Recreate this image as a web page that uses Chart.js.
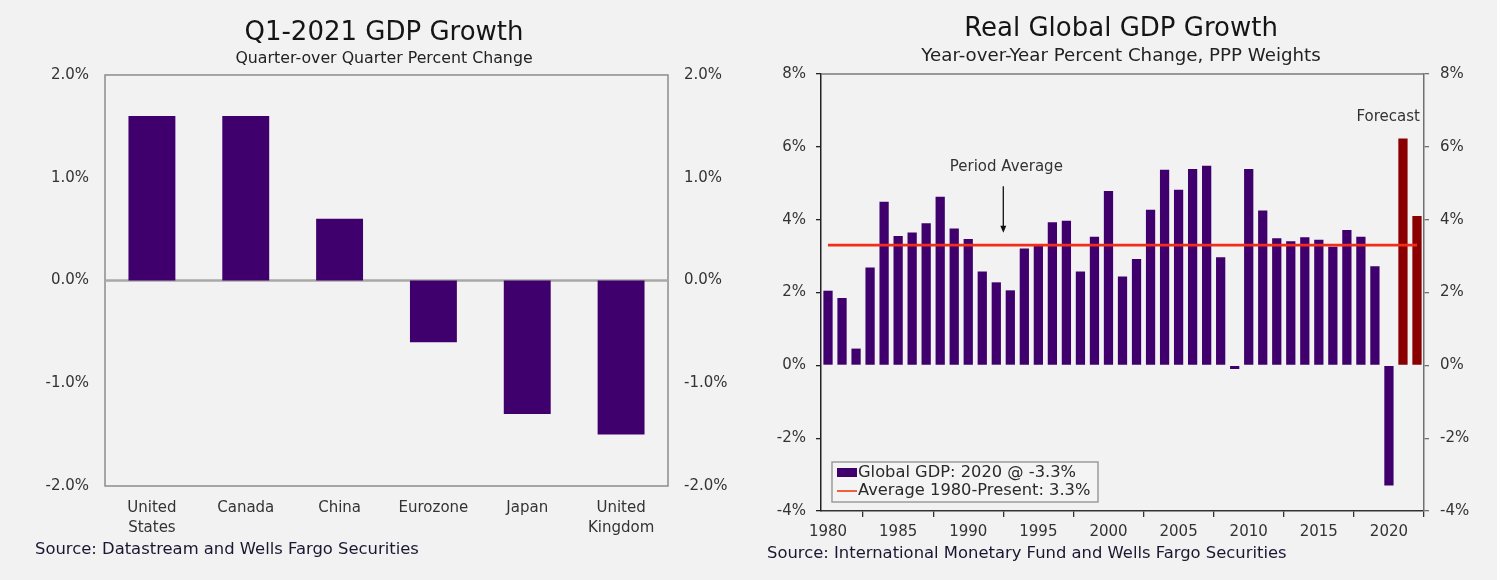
<!DOCTYPE html>
<html>
<head>
<meta charset="utf-8">
<title>GDP Growth</title>
<script src="https://cdn.jsdelivr.net/npm/chart.js@4.4.1/dist/chart.umd.min.js"></script>
<style>
  body { margin: 0; background: #fff; }
  #page { position: relative; width: 1497px; height: 580px; background: #f2f2f2; overflow: hidden; }
  .panel { position: absolute; top: 0; height: 580px; }
  #qoq-panel { left: 0; width: 768px; }
  #gdp-panel { left: 750px; width: 742px; }
  .source {
    position: absolute; font-family: "DejaVu Sans", Verdana, sans-serif; font-size: 16.4px;
    color: #1c1630; white-space: nowrap; line-height: 18px;
  }
</style>
</head>
<body>
<div id="page">
  <div class="panel" id="qoq-panel"><canvas id="qoq-chart"></canvas></div>
  <div class="panel" id="gdp-panel"><canvas id="gdp-chart"></canvas></div>
  <div class="source" style="left:35px; top:540px;">Source: Datastream and Wells Fargo Securities</div>
  <div class="source" style="left:767px; top:544px;">Source: International Monetary Fund and Wells Fargo Securities</div>
</div>

<script>
// Quarterly growth, Q1-2021
const economies = [['United', 'States'], 'Canada', 'China', 'Eurozone', 'Japan', ['United', 'Kingdom']];
const qoqGrowth = [1.6, 1.6, 0.6, -0.6, -1.3, -1.5];

// Annual world GDP growth (IMF, PPP weights)
const years = [1980, 1981, 1982, 1983, 1984, 1985, 1986, 1987, 1988, 1989,
               1990, 1991, 1992, 1993, 1994, 1995, 1996, 1997, 1998, 1999,
               2000, 2001, 2002, 2003, 2004, 2005, 2006, 2007, 2008, 2009,
               2010, 2011, 2012, 2013, 2014, 2015, 2016, 2017, 2018, 2019,
               2020, 2021, 2022];
const globalGrowth = [2.05, 1.85, 0.46, 2.69, 4.49, 3.55, 3.65, 3.90, 4.63, 3.76,
                      3.47, 2.58, 2.28, 2.06, 3.21, 3.33, 3.93, 3.97, 2.58, 3.53,
                      4.79, 2.44, 2.92, 4.27, 5.37, 4.82, 5.39, 5.48, 2.97, -0.10,
                      5.39, 4.25, 3.49, 3.41, 3.52, 3.45, 3.26, 3.72, 3.53, 2.72,
                      -3.30, 6.23, 4.10];
const forecastYears = [2021, 2022];
const periodAverage = 3.3;

const PURPLE = '#3f006e';
const FORECAST_RED = '#8a0000';
const AVG_RED = '#f02e1a';
const TEXT = '#333';

Chart.defaults.font.family = '"DejaVu Sans", Verdana, sans-serif';
Chart.defaults.color = TEXT;
Chart.defaults.animation = false;

// box round the plot area plus the zero line
const qoqFrame = {
  id: 'qoqFrame',
  beforeDatasetsDraw(chart) {
    const { ctx, chartArea: a, scales: { y } } = chart;
    ctx.save();
    ctx.strokeStyle = '#8c8c8c';
    ctx.lineWidth = 1.5;
    ctx.strokeRect(a.left, a.top, a.width, a.height);
    const zero = y.getPixelForValue(0);
    ctx.strokeStyle = '#a8a8a8';
    ctx.lineWidth = 2.5;
    ctx.beginPath();
    ctx.moveTo(a.left, zero);
    ctx.lineTo(a.right, zero);
    ctx.stroke();
    ctx.restore();
  }
};

const pctAxis = (position, width) => ({
  position: position,
  min: -2,
  max: 2,
  ticks: { stepSize: 1, padding: 16, font: { size: 15 }, callback: v => v.toFixed(1) + '%' },
  grid: { display: false, drawTicks: false },
  border: { display: false },
  afterFit: s => { s.width = width; }
});

new Chart(document.getElementById('qoq-chart'), {
  type: 'bar',
  data: {
    labels: economies,
    datasets: [{
      label: 'Q1-2021',
      data: qoqGrowth,
      backgroundColor: PURPLE,
      categoryPercentage: 1,
      barPercentage: 0.5
    }]
  },
  options: {
    responsive: true,
    maintainAspectRatio: false,
    layout: { padding: 0 },
    plugins: {
      legend: { display: false },
      tooltip: { enabled: false },
      title: {
        display: true,
        text: 'Q1-2021 GDP Growth',
        color: '#151515',
        font: { size: 26, weight: 'normal' },
        padding: { top: 18, bottom: 0 }
      },
      subtitle: {
        display: true,
        text: 'Quarter-over Quarter Percent Change',
        color: '#222',
        font: { size: 15.8 },
        padding: { top: 0, bottom: 6.8 }
      }
    },
    scales: {
      x: {
        grid: { display: false, drawTicks: false },
        border: { display: false },
        ticks: { font: { size: 15, lineHeight: 1.33 }, padding: 12, maxRotation: 0, autoSkip: false },
        afterFit: s => { s.height = 94; }
      },
      y: pctAxis('left', 105),
      y2: pctAxis('right', 100)
    }
  },
  plugins: [qoqFrame]
});

// top edge, notes and the boxed legend
const gdpNotes = {
  id: 'gdpNotes',
  afterDatasetsDraw(chart) {
    const { ctx, chartArea: a, scales: { x, y } } = chart;
    ctx.save();
    ctx.strokeStyle = '#7a7a7a';
    ctx.lineWidth = 1.5;
    ctx.beginPath();
    ctx.moveTo(a.left, a.top);
    ctx.lineTo(a.right, a.top);
    ctx.stroke();

    ctx.font = '15px "DejaVu Sans", Verdana, sans-serif';
    ctx.fillStyle = TEXT;
    ctx.textBaseline = 'middle';

    // "Period Average" pointing down at the average line
    const ax = x.getPixelForValue(years.indexOf(1993) - 0.5);
    ctx.textAlign = 'center';
    ctx.fillText('Period Average', ax + 3, y.getPixelForValue(5.45));
    const y0 = y.getPixelForValue(4.92), y1 = y.getPixelForValue(3.64);
    ctx.strokeStyle = '#111';
    ctx.lineWidth = 1.3;
    ctx.beginPath();
    ctx.moveTo(ax, y0);
    ctx.lineTo(ax, y1 - 6);
    ctx.stroke();
    ctx.fillStyle = '#111';
    ctx.beginPath();
    ctx.moveTo(ax - 3, y1 - 7);
    ctx.lineTo(ax + 3, y1 - 7);
    ctx.lineTo(ax, y1);
    ctx.closePath();
    ctx.fill();

    ctx.fillStyle = TEXT;
    ctx.textAlign = 'right';
    ctx.fillText('Forecast', x.getPixelForValue(years.length - 1) + 3, y.getPixelForValue(6.82));

    // legend
    const ds = chart.data.datasets;
    const lx = a.left + 11, ly = a.bottom - 49, lw = 266, lh = 40;
    ctx.fillStyle = '#f4f4f4';
    ctx.fillRect(lx, ly, lw, lh);
    ctx.strokeStyle = '#9c9c9c';
    ctx.lineWidth = 1.5;
    ctx.strokeRect(lx, ly, lw, lh);

    ctx.fillStyle = PURPLE;
    ctx.fillRect(lx + 5, ly + 6, 20, 9);
    ctx.strokeStyle = '#f06040';
    ctx.lineWidth = 2;
    ctx.beginPath();
    ctx.moveTo(lx + 5, ly + 29);
    ctx.lineTo(lx + 25, ly + 29);
    ctx.stroke();

    ctx.font = '16.3px "DejaVu Sans", Verdana, sans-serif';
    ctx.fillStyle = '#2a2a2a';
    ctx.textAlign = 'left';
    ctx.fillText(ds[1].label, lx + 26, ly + 11);
    ctx.fillText(ds[0].label, lx + 26, ly + 29);
    ctx.restore();
  }
};

const growthAxis = (position, borderColor, width, pad) => ({
  position: position,
  min: -4,
  max: 8,
  ticks: { stepSize: 2, padding: pad, font: { size: 15 }, callback: v => v + '%' },
  grid: { drawOnChartArea: false, tickLength: 5, color: borderColor, lineWidth: 1.3 },
  border: { color: borderColor, width: 1.5 },
  afterFit: s => { s.width = width; }
});

new Chart(document.getElementById('gdp-chart'), {
  data: {
    labels: years,
    datasets: [
      {
        type: 'line',
        label: 'Average 1980-Present: ' + periodAverage + '%',
        data: years.map(() => periodAverage),
        borderColor: AVG_RED,
        borderWidth: 2.7,
        pointRadius: 0
      },
      {
        type: 'bar',
        label: 'Global GDP: 2020 @ ' + globalGrowth[years.indexOf(2020)].toFixed(1) + '%',
        data: globalGrowth,
        backgroundColor: ctx => forecastYears.includes(years[ctx.dataIndex]) ? FORECAST_RED : PURPLE,
        categoryPercentage: 1,
        barPercentage: 0.66
      }
    ]
  },
  options: {
    responsive: true,
    maintainAspectRatio: false,
    layout: { padding: 0 },
    plugins: {
      legend: { display: false },
      tooltip: { enabled: false },
      title: {
        display: true,
        text: 'Real Global GDP Growth',
        color: '#151515',
        font: { size: 26, weight: 'normal' },
        padding: { top: 14, bottom: 0 }
      },
      subtitle: {
        display: true,
        text: 'Year-over-Year Percent Change, PPP Weights',
        color: '#222',
        font: { size: 18.2 },
        padding: { top: 0, bottom: 7 }
      }
    },
    scales: {
      x: {
        type: 'category',
        offset: true,
        grid: { offset: true, drawOnChartArea: false, tickLength: 6, color: '#333', lineWidth: 1.3 },
        border: { color: '#333', width: 1.5 },
        ticks: {
          autoSkip: false,
          maxRotation: 0,
          padding: 6,
          font: { size: 15 },
          callback: (v, i) => years[i] % 5 === 0 ? String(years[i]) : null
        },
        afterFit: s => { s.height = 69; }
      },
      y: growthAxis('left', '#222', 71, 10),
      y2: growthAxis('right', '#707070', 68, 11)
    }
  },
  plugins: [gdpNotes]
});
</script>
</body>
</html>
